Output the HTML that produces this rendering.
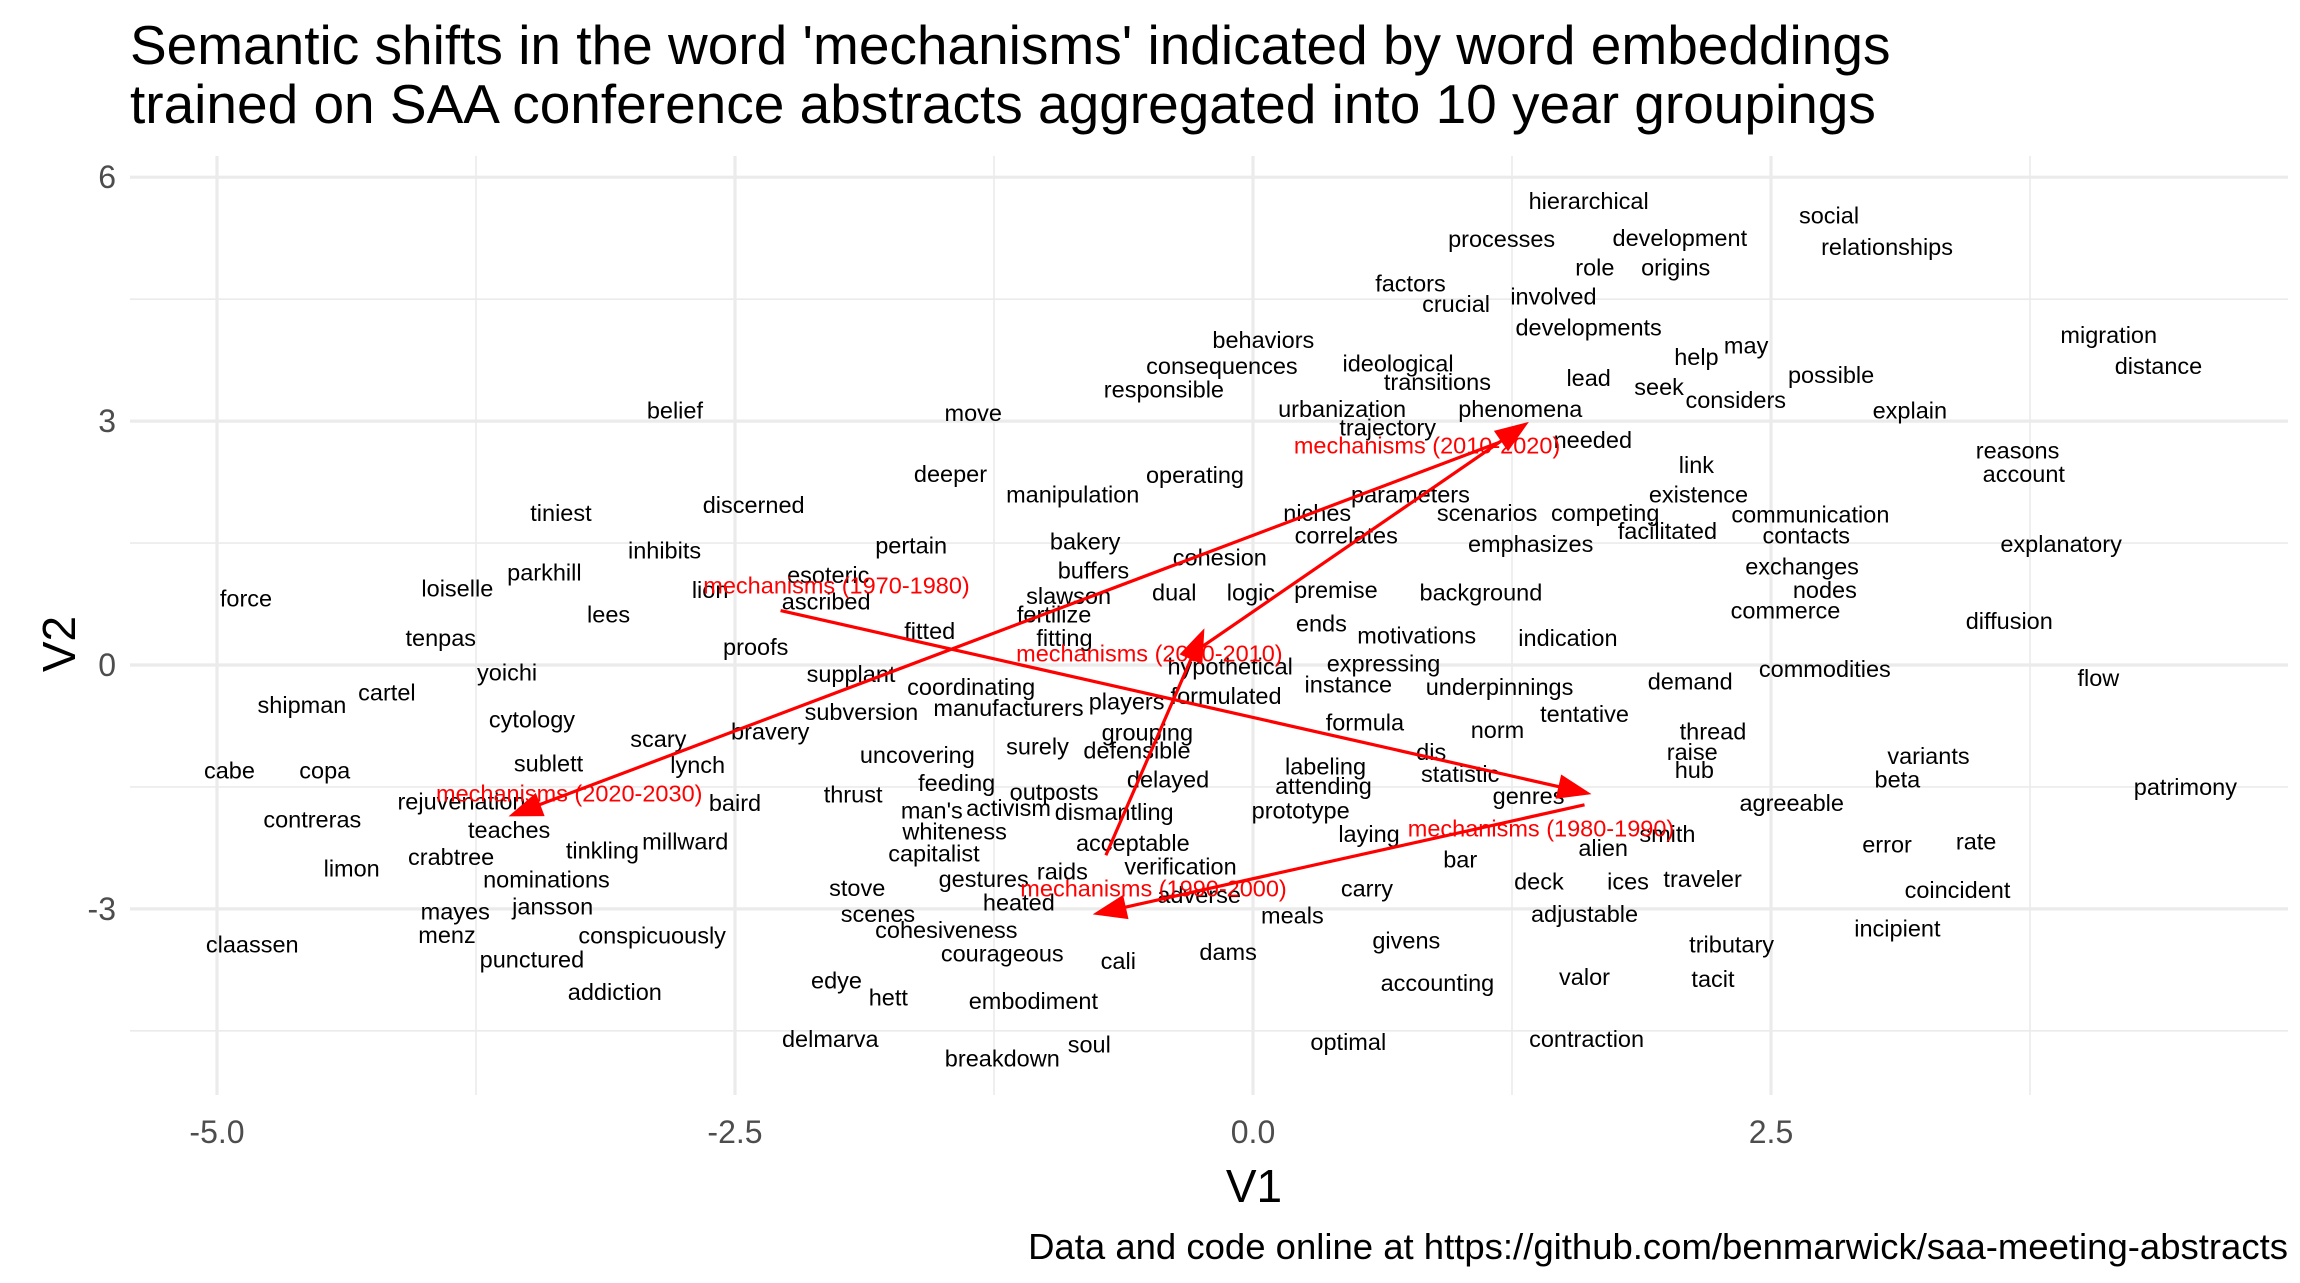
<!DOCTYPE html>
<html><head><meta charset="utf-8"><style>
html,body{margin:0;padding:0;background:#fff;}
svg{display:block;font-family:"Liberation Sans",Arial,sans-serif;}
</style></head><body>
<svg id="chart" width="2300" height="1283" viewBox="0 0 2300 1283" xmlns="http://www.w3.org/2000/svg">
<rect width="2300" height="1283" fill="#fff"/>
<text x="130" y="64" font-size="55" fill="#000">Semantic shifts in the word 'mechanisms' indicated by word embeddings</text>
<text x="130" y="123" font-size="55" fill="#000">trained on SAA conference abstracts aggregated into 10 year groupings</text>
<g id="grid"></g>
<g id="ticks"></g>
<g id="words"></g>
<g id="arrows"></g>
<g id="mech"></g>
<text x="1254" y="1202" font-size="46" text-anchor="middle" fill="#000">V1</text>
<text transform="translate(75,644) rotate(-90)" font-size="46" text-anchor="middle" fill="#000">V2</text>
<text x="2288" y="1259" font-size="36.5" text-anchor="end" fill="#000">Data and code online at https://github.com/benmarwick/saa-meeting-abstracts</text>
</svg>
<script>
const xTicks=[-5,-2.5,0,2.5];
const xTickLabels=["-5.0","-2.5","0.0","2.5"];
const xMinor=[-3.75,-1.25,1.25,3.75];
const yTicks=[-3,0,3,6];
const yTickLabels=["-3","0","3","6"];
const yMinor=[-4.5,-1.5,1.5,4.5];
const words=["hierarchical","social","processes","development","relationships","role","origins","factors","crucial","involved","developments","behaviors","migration","may","ideological","help","consequences","distance","transitions","lead","possible","responsible","seek","considers","belief","move","urbanization","phenomena","explain","trajectory","needed","reasons","deeper","operating","account","link","manipulation","parameters","existence","discerned","tiniest","niches","scenarios","competing","communication","correlates","facilitated","contacts","emphasizes","explanatory","bakery","inhibits","pertain","cohesion","parkhill","buffers","esoteric","exchanges","loiselle","lion","premise","background","nodes","dual","logic","slawson","ascribed","force","lees","fertilize","commerce","diffusion","ends","fitted","fitting","motivations","indication","tenpas","proofs","hypothetical","expressing","yoichi","supplant","instance","demand","commodities","flow","coordinating","underpinnings","cartel","formulated","shipman","manufacturers","players","subversion","tentative","cytology","formula","grouping","norm","thread","bravery","scary","surely","defensible","dis","raise","uncovering","variants","sublett","lynch","labeling","hub","cabe","copa","statistic","feeding","delayed","beta","attending","patrimony","outposts","genres","thrust","baird","rejuvenation","activism","man's","prototype","agreeable","dismantling","contreras","teaches","whiteness","laying","alien","smith","acceptable","millward","tinkling","error","rate","capitalist","crabtree","bar","limon","verification","raids","gestures","traveler","nominations","deck","ices","stove","carry","coincident","adverse","heated","jansson","mayes","scenes","adjustable","meals","cohesiveness","incipient","menz","conspicuously","givens","claassen","tributary","dams","courageous","punctured","cali","edye","valor","tacit","accounting","addiction","hett","embodiment","delmarva","contraction","optimal","soul","breakdown"];
const wordV1=[1.62,2.78,1.20,2.06,3.06,1.65,2.04,0.76,0.98,1.45,1.62,0.05,4.13,2.38,0.70,2.14,-0.15,4.37,0.89,1.62,2.79,-0.43,1.96,2.33,-2.79,-1.35,0.43,1.29,3.17,0.65,1.64,3.69,-1.46,-0.28,3.72,2.14,-0.87,0.76,2.15,-2.41,-3.34,0.31,1.13,1.70,2.69,0.45,2.00,2.67,1.34,3.90,-0.81,-2.84,-1.65,-0.16,-3.42,-0.77,-2.05,2.65,-3.84,-2.62,0.40,1.10,2.76,-0.38,-0.01,-0.89,-2.06,-4.86,-3.11,-0.96,2.57,3.65,0.33,-1.56,-0.91,0.79,1.52,-3.92,-2.40,-0.11,0.63,-3.60,-1.94,0.46,2.11,2.76,4.08,-1.36,1.19,-4.18,-0.13,-4.59,-1.18,-0.61,-1.89,1.60,-3.48,0.54,-0.51,1.18,2.22,-2.33,-2.87,-1.04,-0.56,0.86,2.12,-1.62,3.26,-3.40,-2.68,0.35,2.13,-4.94,-4.48,1.00,-1.43,-0.41,3.11,0.34,4.50,-0.96,1.33,-1.93,-2.50,-3.82,-1.18,-1.55,0.23,2.60,-0.67,-4.54,-3.59,-1.44,0.56,1.69,2.00,-0.58,-2.74,-3.14,3.06,3.49,-1.54,-3.87,1.00,-4.35,-0.35,-0.92,-1.30,2.17,-3.41,1.38,1.81,-1.91,0.55,3.40,-0.26,-1.13,-3.38,-3.85,-1.81,1.60,0.19,-1.48,3.11,-3.89,-2.90,0.74,-4.83,2.31,-0.12,-1.21,-3.48,-0.65,-2.01,1.60,2.22,0.89,-3.08,-1.76,-1.06,-2.04,1.61,0.46,-0.79,-1.21];
const wordV2=[5.71,5.53,5.24,5.25,5.14,4.89,4.89,4.69,4.44,4.53,4.15,4.00,4.06,3.93,3.71,3.79,3.68,3.68,3.48,3.53,3.57,3.39,3.42,3.26,3.13,3.10,3.15,3.15,3.13,2.92,2.77,2.64,2.35,2.34,2.35,2.46,2.10,2.10,2.10,1.97,1.87,1.87,1.87,1.87,1.85,1.59,1.65,1.59,1.49,1.49,1.52,1.41,1.47,1.32,1.14,1.16,1.11,1.21,0.94,0.92,0.92,0.89,0.92,0.89,0.89,0.85,0.78,0.82,0.62,0.62,0.67,0.54,0.51,0.42,0.33,0.36,0.33,0.33,0.22,-0.02,0.02,-0.09,-0.11,-0.24,-0.20,-0.05,-0.16,-0.27,-0.27,-0.34,-0.38,-0.49,-0.53,-0.45,-0.58,-0.60,-0.67,-0.71,-0.83,-0.80,-0.82,-0.82,-0.91,-1.00,-1.05,-1.07,-1.07,-1.11,-1.12,-1.21,-1.23,-1.25,-1.29,-1.30,-1.30,-1.34,-1.45,-1.41,-1.41,-1.49,-1.50,-1.56,-1.61,-1.59,-1.70,-1.68,-1.76,-1.79,-1.79,-1.70,-1.81,-1.90,-2.03,-2.05,-2.08,-2.25,-2.08,-2.19,-2.17,-2.28,-2.21,-2.17,-2.32,-2.36,-2.39,-2.50,-2.48,-2.54,-2.63,-2.63,-2.64,-2.66,-2.66,-2.74,-2.75,-2.77,-2.83,-2.92,-2.97,-3.03,-3.06,-3.06,-3.08,-3.26,-3.24,-3.32,-3.33,-3.39,-3.44,-3.44,-3.53,-3.55,-3.62,-3.64,-3.88,-3.84,-3.86,-3.91,-4.02,-4.09,-4.13,-4.60,-4.60,-4.64,-4.67,-4.84];
const mechLabels=["mechanisms (1970-1980)","mechanisms (1980-1990)","mechanisms (1990-2000)","mechanisms (2000-2010)","mechanisms (2010-2020)","mechanisms (2020-2030)"];
const mechV1=[-2.01,1.39,-0.48,-0.50,0.84,-3.30];
const mechV2=[0.98,-2.01,-2.75,0.14,2.70,-1.58];
const arrowStartV1=[-2.28,1.60,-0.71,-0.26,1.19];
const arrowStartV2=[0.67,-1.72,-2.34,0.20,2.74];
const arrowEndV1=[1.62,-0.76,-0.24,1.32,-3.58];
const arrowEndV2=[-1.58,-3.06,0.42,2.97,-1.85];

const NS="http://www.w3.org/2000/svg";
const PL=130,PR=2288,PT=156,PB=1095;
function xs(v){return 1253+v*207.2;}
function ys(v){return 665-v*81.3;}
function mk(tag,attrs,parent){const e=document.createElementNS(NS,tag);for(const k in attrs)e.setAttribute(k,attrs[k]);parent.appendChild(e);return e;}
const grid=document.getElementById('grid');
xMinor.forEach(v=>{const l=mk('line',{x1:xs(v),x2:xs(v),y1:PT,y2:PB,stroke:'#ebebeb','stroke-width':1.6},grid);

});
yMinor.forEach(v=>{const l=mk('line',{x1:PL,x2:PR,y1:ys(v),y2:ys(v),stroke:'#ebebeb','stroke-width':1.6},grid);

});
xTicks.forEach(v=>{const l=mk('line',{x1:xs(v),x2:xs(v),y1:PT,y2:PB,stroke:'#ebebeb','stroke-width':3.2},grid);

});
yTicks.forEach(v=>{const l=mk('line',{x1:PL,x2:PR,y1:ys(v),y2:ys(v),stroke:'#ebebeb','stroke-width':3.2},grid);

});
const ticks=document.getElementById('ticks');
xTicks.forEach((v,i)=>{const t=mk('text',{x:xs(v),y:1143,'font-size':32,'text-anchor':'middle',fill:'#4d4d4d'},ticks);t.textContent=xTickLabels[i];

});
yTicks.forEach((v,i)=>{const t=mk('text',{x:116,y:ys(v)+11,'font-size':32,'text-anchor':'end',fill:'#4d4d4d'},ticks);t.textContent=yTickLabels[i];

});
const wg=document.getElementById('words');
words.forEach((w,i)=>{const t=mk('text',{x:xs(wordV1[i]),y:ys(wordV2[i])+8,'font-size':23.5,'text-anchor':'middle',fill:'#000'},wg);t.textContent=w;

});
const ag=document.getElementById('arrows');
arrowStartV1.forEach((v,i)=>{
 const x1=xs(v),y1=ys(arrowStartV2[i]),x2=xs(arrowEndV1[i]),y2=ys(arrowEndV2[i]);
 const dx=x2-x1,dy=y2-y1,L=Math.hypot(dx,dy),ux=dx/L,uy=dy/L,h=30,w=11;
 const bx=x2-ux*h,by=y2-uy*h;
 const l=mk('line',{x1:x1,y1:y1,x2:bx,y2:by,stroke:'#ff0000','stroke-width':3.2},ag);
 
 
 const p=mk('polygon',{points:`${x2},${y2} ${bx-uy*w},${by+ux*w} ${bx+uy*w},${by-ux*w}`,fill:'#ff0000',stroke:'#ff0000','stroke-width':2},ag);
 
 
});
const mg=document.getElementById('mech');
mechLabels.forEach((m,i)=>{const t=mk('text',{x:xs(mechV1[i]),y:ys(mechV2[i])+8,'font-size':23.5,'text-anchor':'middle',fill:'#ff0000'},mg);t.textContent=m;

});
</script>
</body></html>
